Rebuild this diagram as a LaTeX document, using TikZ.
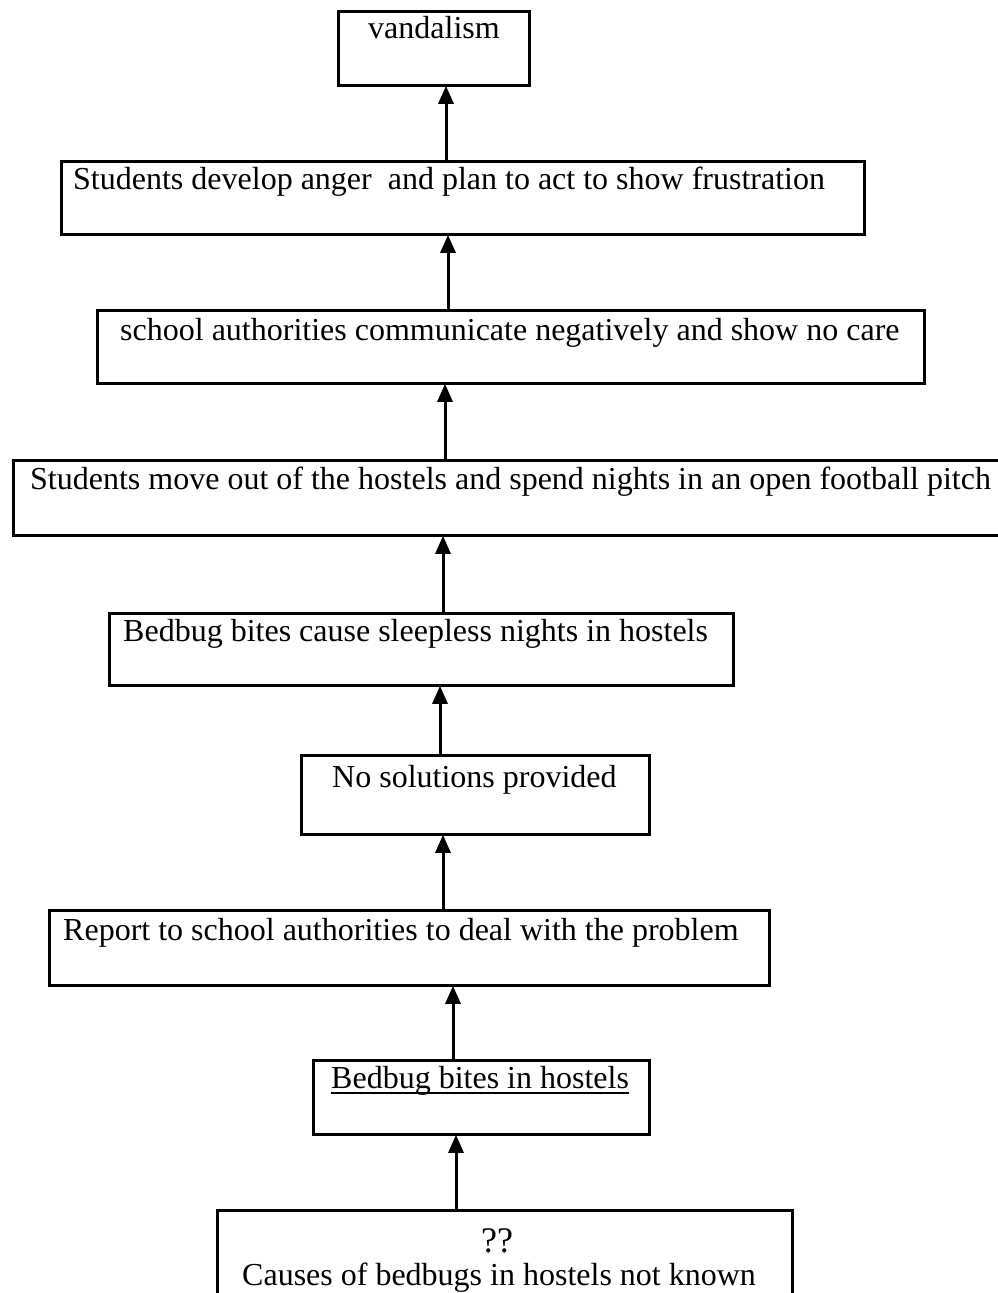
\documentclass[tikz,border=0pt]{standalone}
\usepackage{fontspec}
\setmainfont{Liberation Serif}
\usetikzlibrary{arrows.meta}
\begin{document}
\begin{tikzpicture}[x=1pt,y=-1pt,
  box/.style={draw, line width=2.8pt, inner sep=0pt, anchor=north west},
  lbl/.style={anchor=base west, inner sep=0pt, font=\fontsize{32}{38}\selectfont},
  arr/.style={line width=3pt, -{Triangle[length=18pt,width=15pt]}, shorten >=-1pt}]
\useasboundingbox (0,0) rectangle (998,1293);
\clip (0,0) rectangle (998,1293);

% boxes: top-left corner, size
\node[box, minimum width=191pt, minimum height=74pt] (b1) at (337,10) {};
\node[box, minimum width=803pt, minimum height=73pt] (b2) at (60,160) {};
\node[box, minimum width=827pt, minimum height=73pt] (b3) at (96,309) {};
\node[box, minimum width=1010pt, minimum height=75pt] (b4) at (12,459) {};
\node[box, minimum width=624pt, minimum height=72pt] (b5) at (108,612) {};
\node[box, minimum width=348pt, minimum height=79pt] (b6) at (300,754) {};
\node[box, minimum width=720pt, minimum height=75pt] (b7) at (48,909) {};
\node[box, minimum width=336pt, minimum height=74pt] (b8) at (312,1059) {};
\node[box, minimum width=575pt, minimum height=110pt] (b9) at (216,1209) {};

% labels
\node[lbl] (t1) at (368,38) {vandalism};
\node[lbl] (t2) at (73,189) {Students develop anger\ \ and plan to act to show frustration};
\node[lbl] (t3) at (120,340) {school authorities communicate negatively and show no care};
\node[lbl] (t4) at (30,489) {Students move out of the hostels and spend nights in an open football pitch};
\node[lbl] (t5) at (123,641) {Bedbug bites cause sleepless nights in hostels};
\node[lbl] (t6) at (332,787) {No solutions provided};
\node[lbl] (t7) at (63,940) {Report to school authorities to deal with the problem};
\node[lbl] (t8) at (331,1088) {Bedbug bites in hostels};
\node[lbl, anchor=base, font=\fontsize{36}{40}\selectfont] (t9a) at (497,1252) {??};
\node[lbl] (t9b) at (242,1285) {Causes of bedbugs in hostels not known};
\draw[line width=1.8pt] ([yshift=-5pt]t8.base west) -- ([yshift=-5pt]t8.base east);

% arrow columns
\coordinate (c1) at (446,0);
\coordinate (c2) at (448,0);
\coordinate (c3) at (445,0);
\coordinate (c4) at (443,0);
\coordinate (c5) at (440,0);
\coordinate (c6) at (443,0);
\coordinate (c7) at (453,0);
\coordinate (c8) at (456,0);

\draw[arr] (b2.north -| c1) -- (b1.south -| c1);
\draw[arr] (b3.north -| c2) -- (b2.south -| c2);
\draw[arr] (b4.north -| c3) -- (b3.south -| c3);
\draw[arr] (b5.north -| c4) -- (b4.south -| c4);
\draw[arr] (b6.north -| c5) -- (b5.south -| c5);
\draw[arr] (b7.north -| c6) -- (b6.south -| c6);
\draw[arr] (b8.north -| c7) -- (b7.south -| c7);
\draw[arr] (b9.north -| c8) -- (b8.south -| c8);
\end{tikzpicture}
\end{document}
